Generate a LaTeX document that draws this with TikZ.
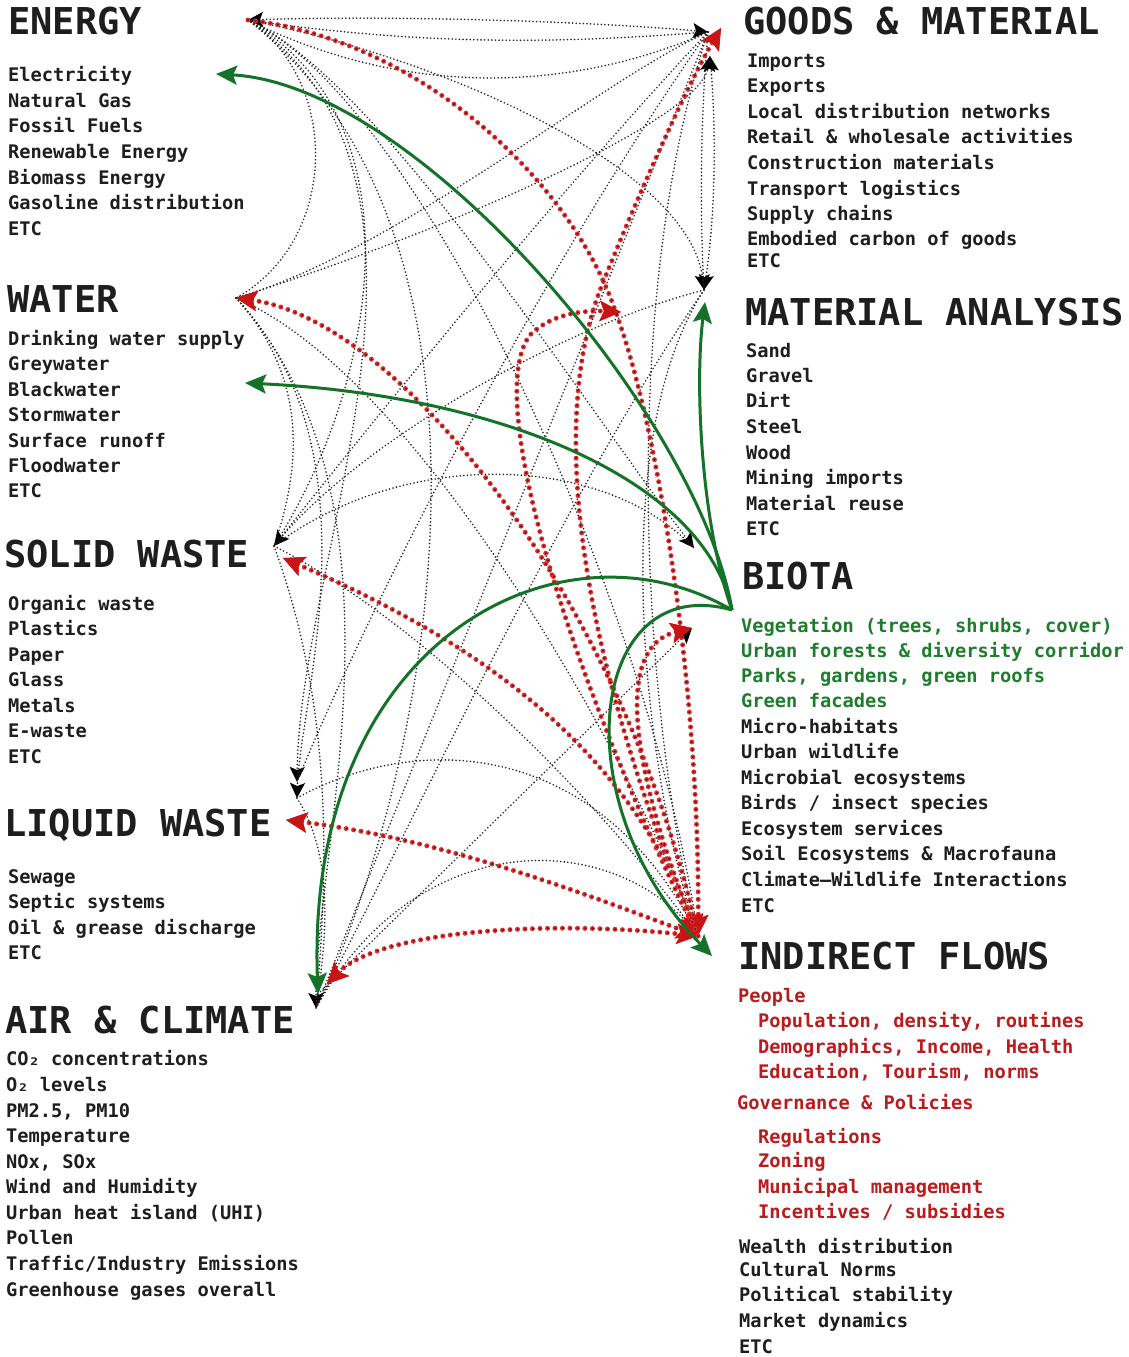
\documentclass[tikz,border=0pt]{standalone}
\usepackage{fontspec}
\setmainfont{DejaVu Sans Mono}
\usetikzlibrary{arrows.meta}
\definecolor{tblack}{RGB}{30,30,30}
\definecolor{tgreen}{RGB}{30,125,45}
\definecolor{tred}{RGB}{185,28,28}
\definecolor{ggreen}{RGB}{20,115,40}
\definecolor{lred}{RGB}{225,45,45}
\definecolor{dred}{RGB}{105,20,25}
\definecolor{rtip}{RGB}{200,20,20}
\tikzset{
  be/.style={-{Stealth[length=15pt,width=15pt,inset=3pt,color=black]}},
  bb/.style={{Stealth[length=15pt,width=15pt,inset=3pt,color=black]}-{Stealth[length=15pt,width=15pt,inset=3pt,color=black]}},
  re/.style={-{Stealth[length=21pt,width=20pt,inset=4pt,color=rtip]}},
  rb/.style={{Stealth[length=21pt,width=20pt,inset=4pt,color=rtip]}-{Stealth[length=21pt,width=20pt,inset=4pt,color=rtip]}},
  bd/.style={draw=black!85, line width=1.8pt, dash pattern=on 0pt off 3.6pt, line cap=round},
  rd/.style={draw=dred, line width=2.4pt, dash pattern=on 0pt off 7.5pt, line cap=round,
     preaction={draw=lred, line width=5pt, dash pattern=on 0pt off 7.5pt, line cap=round}},
  gl/.style={draw=ggreen, line width=3pt, -{Stealth[length=21pt,width=19pt,inset=4pt,color=ggreen]}},
  item/.style={anchor=base west, inner sep=0pt, text=tblack, font=\fontsize{18.7}{20}\selectfont\bfseries},
  hd/.style={anchor=base west, inner sep=0pt, text=tblack, font=\fontsize{37}{40}\selectfont\bfseries},
}
\begin{document}
\begin{tikzpicture}[x=1pt,y=-1pt]
\useasboundingbox[fill=white] (0,0) rectangle (1129,1357);

% ---------- hubs ----------
\coordinate (E) at (248,20);
\coordinate (Eg) at (216,74);
\coordinate (W) at (236,298);
\coordinate (Wg) at (245,383);
\coordinate (S) at (274,546);
\coordinate (Sr) at (283,558);
\coordinate (L1) at (297,782);
\coordinate (L2) at (297,798);
\coordinate (Lr) at (286,820);
\coordinate (A) at (316,1008);
\coordinate (A2) at (318,994);
\coordinate (Ar) at (327,984);
\coordinate (G) at (708,32);
\coordinate (Gr) at (721,28);
\coordinate (G2) at (710,56);
\coordinate (M) at (704,290);
\coordinate (Mg) at (705,302);
\coordinate (X) at (621,312);
\coordinate (B) at (694,548);
\coordinate (Br) at (692,628);
\coordinate (I) at (698,936);
\coordinate (Ig) at (712,956);
\coordinate (Bs) at (732,610);

% ---------- black dotted web ----------
\draw[bd,bb] (E) .. controls (400,15) and (600,22) .. (G);
\draw[bd] (E) .. controls (430,110) and (600,80) .. (G);
\draw[bd] (E) .. controls (450,50) and (600,40) .. (G);
\draw[bd] (E) .. controls (340,80) and (340,240) .. (W);
\draw[bd] (E) .. controls (420,120) and (380,380) .. (S);
\draw[bd,be] (E) .. controls (480,180) and (300,550) .. (L1);
\draw[bd,be] (E) .. controls (450,60) and (690,170) .. (M);
\draw[bd,be] (E) .. controls (380,80) and (580,400) .. (B);
\draw[bd] (E) .. controls (540,250) and (420,800) .. (A);
\draw[bd] (E) .. controls (420,100) and (650,600) .. (I);
\draw[bd] (W) .. controls (400,250) and (600,80) .. (G);
\draw[bd,be] (W) .. controls (450,230) and (700,120) .. (G2);
\draw[bd] (W) .. controls (310,380) and (300,470) .. (S);
\draw[bd,be] (W) .. controls (380,450) and (300,700) .. (L2);
\draw[bd,be] (W) .. controls (420,500) and (315,850) .. (A);
\draw[bd] (W) .. controls (430,380) and (650,800) .. (I);
\draw[bd,be] (G) .. controls (550,200) and (350,450) .. (S);
\draw[bd] (G) .. controls (520,300) and (350,650) .. (L1);
\draw[bd] (G) .. controls (560,400) and (400,800) .. (A);
\draw[bd] (G) .. controls (620,300) and (640,700) .. (I);
\draw[bd,bb] (G2) .. controls (716,130) and (716,210) .. (M);
\draw[bd] (G) .. controls (700,120) and (700,220) .. (M);
\draw[bd] (M) .. controls (560,500) and (400,850) .. (A);
\draw[bd] (M) .. controls (550,330) and (350,450) .. (S);
\draw[bd] (S) .. controls (400,450) and (600,450) .. (B);
\draw[bd] (S) .. controls (420,620) and (600,800) .. (I);
\draw[bd] (L2) .. controls (420,730) and (600,740) .. (I);
\draw[bd] (A) .. controls (420,820) and (620,830) .. (I);
\draw[bd,be] (A2) -- (Br);
\draw[bd] (S) .. controls (330,700) and (330,850) .. (A);
\draw[bd] (L2) .. controls (330,850) and (330,920) .. (A);
\draw[bd] (M) .. controls (600,450) and (650,800) .. (I);

% ---------- red dotted (indirect flows) ----------
\draw[rd,re] (E) .. controls (420,40) and (570,180) .. (615,310) .. controls (660,430) and (700,700) .. (I);
\draw[rd,rb] (I) .. controls (600,700) and (540,450) .. (600,290) .. controls (640,190) and (690,80) .. (Gr);
\draw[rd,re] (I) .. controls (580,700) and (480,400) .. (530,335) .. controls (550,315) and (580,310) .. (X);
\draw[rd,rb] (W) .. controls (400,320) and (620,600) .. (I);
\draw[rd,rb] (Sr) .. controls (450,630) and (620,730) .. (I);
\draw[rd,rb] (Lr) .. controls (450,840) and (600,900) .. (I);
\draw[rd,rb] (Ar) .. controls (380,930) and (550,920) .. (I);
\draw[rd,re] (I) .. controls (650,820) and (600,650) .. (Br);

% ---------- green (biota) ----------
\draw[gl] (Bs) .. controls (700,420) and (420,85) .. (Eg);
\draw[gl] (Bs) .. controls (705,480) and (500,395) .. (Wg);
\draw[gl] (Bs) .. controls (700,520) and (695,380) .. (Mg);
\draw[gl] (Bs) .. controls (560,510) and (305,640) .. (A2);
\draw[gl] (Bs) .. controls (590,570) and (560,800) .. (Ig);

% ---------- left column ----------
\node[hd] (hE) at (8,34) {ENERGY};
\foreach \n/\y/\t in {e1/81/Electricity, e2/107/Natural Gas, e3/132/Fossil Fuels, e4/158/Renewable Energy, e5/184/Biomass Energy, e6/209/Gasoline distribution, e7/235/ETC}
  \node[item] (\n) at (8,\y) {\t};

\node[hd] (hW) at (7,312) {WATER};
\foreach \n/\y/\t in {w1/345/Drinking water supply, w2/370/Greywater, w3/396/Blackwater, w4/421/Stormwater, w5/447/Surface runoff, w6/472/Floodwater, w7/497/ETC}
  \node[item] (\n) at (8,\y) {\t};

\node[hd] (hS) at (4,567) {SOLID WASTE};
\foreach \n/\y/\t in {s1/610/Organic waste, s2/635/Plastics, s3/661/Paper, s4/686/Glass, s5/712/Metals, s6/737/E-waste, s7/763/ETC}
  \node[item] (\n) at (8,\y) {\t};

\node[hd] (hL) at (4,836) {LIQUID WASTE};
\foreach \n/\y/\t in {l1/883/Sewage, l2/908/Septic systems, l3/934/Oil \& grease discharge, l4/959/ETC}
  \node[item] (\n) at (8,\y) {\t};

\node[hd] (hA) at (5,1033) {AIR \& CLIMATE};
\foreach \n/\y/\t in {a1/1065/CO₂ concentrations, a2/1091/O₂ levels, a3/1117/{PM2.5, PM10}, a4/1142/Temperature, a5/1168/{NOx, SOx}, a6/1193/Wind and Humidity, a7/1219/Urban heat island (UHI), a8/1244/Pollen, a9/1270/{Traffic/Industry Emissions}, a10/1296/Greenhouse gases overall}
  \node[item] (\n) at (6,\y) {\t};

% ---------- right column ----------
\node[hd] (hG) at (743,34) {GOODS \& MATERIAL};
\foreach \n/\y/\t in {g1/67/Imports, g2/92/Exports, g3/118/Local distribution networks, g4/143/Retail \& wholesale activities, g5/169/Construction materials, g6/195/Transport logistics, g7/220/Supply chains, g8/245/Embodied carbon of goods, g9/267/ETC}
  \node[item] (\n) at (747,\y) {\t};

\node[hd] (hM) at (745,325) {MATERIAL ANALYSIS};
\foreach \n/\y/\t in {m1/357/Sand, m2/382/Gravel, m3/407/Dirt, m4/433/Steel, m5/459/Wood, m6/484/Mining imports, m7/510/Material reuse, m8/535/ETC}
  \node[item] (\n) at (746,\y) {\t};

\node[hd] (hB) at (742,589) {BIOTA};
\foreach \n/\y/\t in {b1/632/{Vegetation (trees, shrubs, cover)}, b2/657/Urban forests \& diversity corridor, b3/682/{Parks, gardens, green roofs}, b4/707/Green facades}
  \node[item,text=tgreen] (\n) at (741,\y) {\t};
\foreach \n/\y/\t in {b5/733/Micro-habitats, b6/758/Urban wildlife, b7/784/Microbial ecosystems, b8/809/{Birds / insect species}, b9/835/Ecosystem services, b10/860/Soil Ecosystems \& Macrofauna, b11/886/Climate–Wildlife Interactions, b12/912/ETC}
  \node[item] (\n) at (741,\y) {\t};

\node[hd] (hI) at (738,969) {INDIRECT FLOWS};
\node[item,text=tred] (i1) at (738,1002) {People};
\foreach \n/\y/\t in {i2/1027/{Population, density, routines}, i3/1053/{Demographics, Income, Health}, i4/1078/{Education, Tourism, norms}}
  \node[item,text=tred] (\n) at (758,\y) {\t};
\node[item,text=tred] (i5) at (737,1109) {Governance \& Policies};
\foreach \n/\y/\t in {i6/1143/Regulations, i7/1167/Zoning, i8/1193/Municipal management, i9/1218/{Incentives / subsidies}}
  \node[item,text=tred] (\n) at (758,\y) {\t};
\foreach \n/\y/\t in {i10/1253/Wealth distribution, i11/1276/Cultural Norms, i12/1301/Political stability, i13/1327/Market dynamics, i14/1353/ETC}
  \node[item] (\n) at (739,\y) {\t};
\end{tikzpicture}
\end{document}
